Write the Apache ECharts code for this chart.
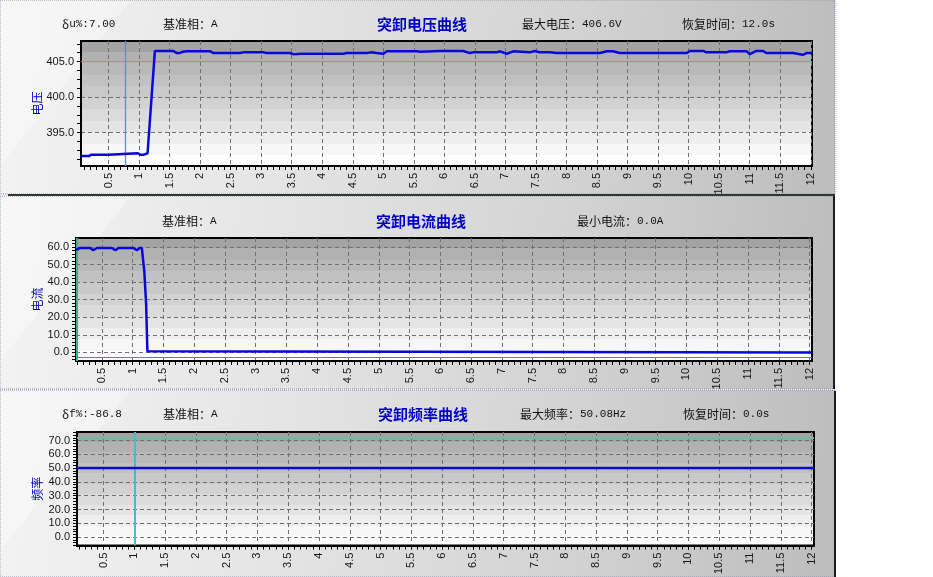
<!DOCTYPE html>
<html><head><meta charset="utf-8">
<script src="https://cdn.jsdelivr.net/npm/echarts@6/dist/echarts.min.js"></script>
<style>html,body{margin:0;padding:0;background:#fff;}#c{width:933px;height:577px;}</style>
</head><body><div id="c"></div>
<script>
// ---------- data ----------
const voltTime = [0.05, 0.18, 0.22, 0.50, 0.52, 0.98, 1.02, 1.08, 1.10, 1.14, 1.26, 1.56, 1.62, 1.66, 1.72, 1.78, 2.16, 2.22, 2.65, 2.71, 3.04, 3.06, 3.09, 3.47, 3.53, 3.64, 4.35, 4.40, 4.73, 4.80, 4.89, 5.00, 5.06, 5.55, 5.60, 5.93, 6.31, 6.42, 6.47, 6.86, 6.91, 7.02, 7.13, 7.40, 7.48, 7.56, 7.73, 7.76, 7.84, 8.55, 8.66, 8.76, 8.87, 9.97, 10.02, 10.24, 10.29, 10.62, 10.67, 10.95, 11.00, 11.11, 11.22, 11.27, 11.71, 11.87, 11.93, 12.02];
const voltValues = [391.7, 391.7, 391.9, 391.9, 392.1, 392.1, 391.9, 391.9, 392.1, 392.1, 406.5, 406.5, 406.2, 406.2, 406.4, 406.47, 406.47, 406.2, 406.2, 406.3, 406.3, 406.05, 406.2, 406.2, 406.05, 406.1, 406.1, 406.2, 406.2, 406.3, 406.2, 406.1, 406.45, 406.45, 406.4, 406.5, 406.5, 406.2, 406.3, 406.3, 406.45, 406.1, 406.45, 406.3, 406.5, 406.3, 406.3, 406.05, 406.2, 406.2, 406.45, 406.45, 406.2, 406.2, 406.5, 406.5, 406.3, 406.3, 406.45, 406.45, 406.05, 406.5, 406.5, 406.2, 406.2, 405.95, 406.2, 406.2];

const currTime = [0.08, 0.15, 0.31, 0.36, 0.42, 0.66, 0.72, 0.77, 1.01, 1.07, 1.11, 1.15, 1.19, 1.22, 1.24, 1.26, 12.04];
const currValues = [58.4, 59.4, 59.4, 58.1, 59.4, 59.4, 58.1, 59.4, 59.4, 58.1, 59.4, 59.4, 46.1, 27.2, 0.7, 0.0, 0.0];

const freqTime = [0.07, 1.0, 6.0, 12.04];
const freqValues = [50.08, 50.08, 50.08, 50.08];

const xTickLabels = [0.5, 1, 1.5, 2, 2.5, 3, 3.5, 4, 4.5, 5, 5.5, 6, 6.5, 7, 7.5, 8, 8.5, 9, 9.5, 10, 10.5, 11, 11.5, 12];
const voltYLabels = [395, 400, 405];
const currYLabels = [0, 10, 20, 30, 40, 50, 60];
const freqYLabels = [0, 10, 20, 30, 40, 50, 60, 70];

const voltLimit = 405.1, voltMarkTime = 0.77;
const currLimit = -2.7, currMarkTime = 0.09;
const freqLimit = 72.3, freqMarkTime = 1.0;

// ---------- layout ----------
const panels = [
  {grid:{left:81, top:41, width:731, height:125}, xMin:0.05, xMax:12.02, yMin:390.3, yMax:407.9,
   yLabels:voltYLabels, yMinorStep:1.25, name:'电压', nameGap:38, time:voltTime, values:voltValues,
   hLine:voltLimit, hColor:'#55c08a', hWidth:1, vLine:voltMarkTime, vColor:'#1eaed0', vWidth:1.3},
  {grid:{left:76, top:238, width:736, height:123}, xMin:0.08, xMax:12.04, yMin:-4.9, yMax:65.1,
   yLabels:currYLabels, yMinorStep:2, name:'电流', nameGap:33, time:currTime, values:currValues,
   hLine:currLimit, hColor:'#2b9aa8', hWidth:1, vLine:currMarkTime, vColor:'#3bb08a', vWidth:2},
  {grid:{left:77, top:432, width:737, height:124}, xMin:0.07, xMax:12.04, yMin:-6.2, yMax:76.3,
   yLabels:freqYLabels, yMinorStep:2, name:'频率', nameGap:34, time:freqTime, values:freqValues,
   hLine:freqLimit, hColor:'#72b8a2', hWidth:2, vLine:freqMarkTime, vColor:'#4cb6d6', vWidth:2}
];

function minorValues(min, max, step) {
  const out = [];
  const start = Math.ceil(min / step);
  for (let k = start; k * step <= max; k++) out.push(Math.round(k * step * 1000) / 1000);
  return out;
}

const plotBg = {type:'linear', x:0, y:0, x2:0, y2:1, colorStops:(function(){
  const cols = ['#a3a3a3','#b1b1b1','#b9b9b9','#c1c1c1','#c9c9c9','#d2d2d2','#dbdbdb','#e4e4e4','#eeeeee','#f7f7f7','#ffffff'];
  const s = []; const n = cols.length;
  cols.forEach((c,i)=>{ s.push({offset:i/n, color:c}); s.push({offset:(i+1)/n - 0.0001, color:c}); });
  return s; })()};

const grids = [], xAxes = [], yAxes = [], series = [];
const axisFont = {fontSize:11, fontFamily:'Liberation Sans', color:'#151515'};
panels.forEach((p, i) => {
  grids.push(Object.assign({show:true, backgroundColor:plotBg, borderColor:'#000', borderWidth:2}, p.grid));
  xAxes.push({gridIndex:i, type:'value', min:p.xMin, max:p.xMax, position:'bottom',
    axisLine:{show:true, onZero:false, lineStyle:{color:'#000', width:2}},
    axisTick:{show:true, customValues:xTickLabels, length:4, lineStyle:{color:'#000'}},
    axisLabel:Object.assign({customValues:xTickLabels, rotate:90, margin:7}, axisFont),
    splitLine:{show:true, lineStyle:{color:'#707070', type:[4,3], width:1}}});
  xAxes.push({gridIndex:i, type:'value', min:p.xMin, max:p.xMax, position:'bottom',
    axisLine:{show:false, onZero:false},
    axisTick:{show:true, customValues:minorValues(p.xMin, p.xMax, 0.1), length:4, lineStyle:{color:'#000'}},
    axisLabel:{show:false}, splitLine:{show:false}});
  yAxes.push({gridIndex:i, type:'value', min:p.yMin, max:p.yMax, position:'left',
    name:p.name, nameLocation:'middle', nameGap:p.nameGap, nameRotate:90, nameMoveOverlap:false,
    nameTextStyle:{color:'#0000c8', fontSize:12, fontFamily:'Noto Sans CJK SC'},
    axisLine:{show:true, onZero:false, lineStyle:{color:'#000', width:2}},
    axisTick:{show:true, customValues:p.yLabels, length:4, lineStyle:{color:'#000'}},
    axisLabel:Object.assign({customValues:p.yLabels, margin:7, formatter:v=>Number(v).toFixed(1)}, axisFont),
    splitLine:{show:true, lineStyle:{color:'#707070', type:[4,3], width:1}}});
  yAxes.push({gridIndex:i, type:'value', min:p.yMin, max:p.yMax, position:'left',
    axisLine:{show:false, onZero:false},
    axisTick:{show:true, customValues:minorValues(p.yMin, p.yMax, p.yMinorStep), length:4, lineStyle:{color:'#000'}},
    axisLabel:{show:false}, splitLine:{show:false}});
  series.push({type:'line', xAxisIndex:2*i, yAxisIndex:2*i, data:p.time.map((t,k)=>[t, p.values[k]]),
    showSymbol:false, symbol:'none', lineStyle:{color:'#0808d8', width:2.5}, z:5,
    markLine:{silent:true, symbol:'none', label:{show:false}, animation:false, z:4,
      data:[{yAxis:p.hLine, lineStyle:{color:p.hColor, width:p.hWidth, type:'solid'}},
            {xAxis:p.vLine, lineStyle:{color:p.vColor, width:p.vWidth, type:'solid'}}]}});
});

// ---------- panel decoration ----------
function panelBg(y, h, w) {
  return [
    {type:'rect', z:-20, shape:{x:0, y:y, width:w, height:h},
     style:{fill:new echarts.graphic.LinearGradient(0,0,1,0.35,[
       {offset:0, color:'#f3f3f3'}, {offset:0.35, color:'#e4e4e4'}, {offset:0.7, color:'#d2d2d2'}, {offset:1, color:'#bdbdbd'}]),
       stroke:'#8c8cb4', lineWidth:1, lineDash:[1,1]}},
    {type:'polygon', z:-19, shape:{points:[[1,y+1],[130,y+1],[1,y+h*0.85]]}, style:{fill:'rgba(255,255,255,0.35)'}}
  ];
}
const cjk = 'Noto Sans CJK SC', mono = 'Liberation Mono';
const rich = {c:{fontFamily:cjk, fontSize:12, fill:'#111'}, a:{fontFamily:mono, fontSize:11, fill:'#111'}};
function txt(x, y, s) {
  return {type:'text', z:100, x:x, y:y, style:{text:s, rich:rich, verticalAlign:'middle', align:'left'}};
}
function title(x, y, s) {
  return {type:'text', z:100, x:x, y:y, style:{text:s, font:'bold 15px "Noto Sans CJK SC"', fill:'#0000c8', verticalAlign:'middle', align:'left'}};
}
const graphics = [].concat(
  panelBg(0, 194, 835),
  panelBg(196, 193, 834),
  panelBg(390, 187, 835),
  [
    {type:'rect', z:-18, shape:{x:8, y:194, width:827, height:2}, style:{fill:'#2c3b2c'}},
    {type:'rect', z:-18, shape:{x:833, y:196, width:2, height:193}, style:{fill:'#1c1c1c'}},
    {type:'rect', z:-18, shape:{x:834, y:391, width:2, height:186}, style:{fill:'#1c1c1c'}},
    txt(62, 24, '{c|δ}{a|u%:7.00}'),
    txt(163, 24, '{c|基准相：}{a|A}'),
    title(377, 24, '突卸电压曲线'),
    txt(522, 24, '{c|最大电压：}{a|406.6V}'),
    txt(682, 24, '{c|恢复时间：}{a|12.0s}'),
    txt(162, 221, '{c|基准相：}{a|A}'),
    title(376, 221, '突卸电流曲线'),
    txt(577, 221, '{c|最小电流：}{a|0.0A}'),
    txt(62, 414, '{c|δ}{a|f%:-86.8}'),
    txt(163, 414, '{c|基准相：}{a|A}'),
    title(378, 414, '突卸频率曲线'),
    txt(520, 414, '{c|最大频率：}{a|50.08Hz}'),
    txt(683, 414, '{c|恢复时间：}{a|0.0s}')
  ]);

const chart = echarts.init(document.getElementById('c'), null, {renderer:'canvas'});
chart.setOption({
  animation:false,
  backgroundColor:'#ffffff',
  grid:grids, xAxis:xAxes, yAxis:yAxes, series:series,
  graphic:{elements:graphics}
});
</script></body></html>
